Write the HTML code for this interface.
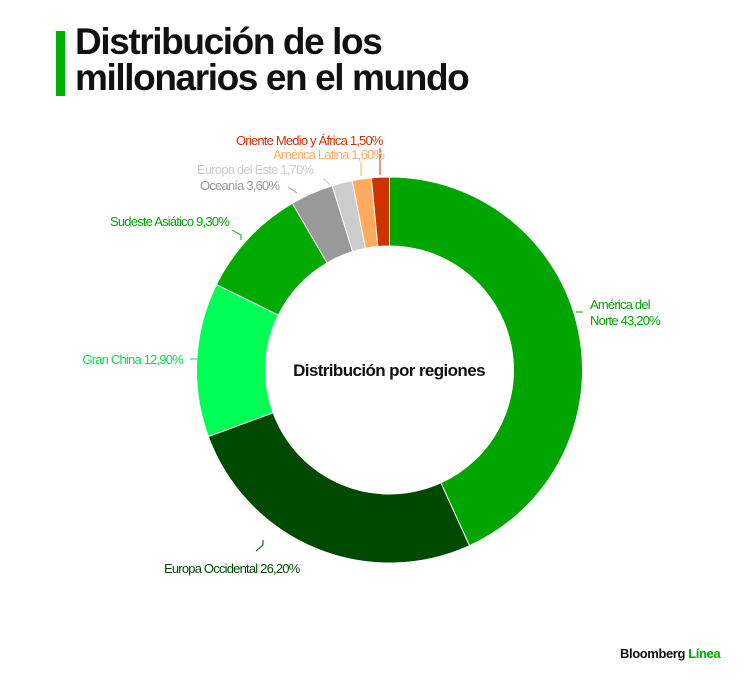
<!DOCTYPE html>
<html><head><meta charset="utf-8"><style>
body{margin:0;background:#fff;width:751px;height:681px;overflow:hidden;font-family:"Liberation Sans",sans-serif}
.bar{position:absolute;left:56px;top:31px;width:9px;height:65px;background:#00b000}
.t{position:absolute;left:75px;top:24px;font-size:37px;font-weight:bold;line-height:36px;letter-spacing:-1.4px;color:#111}
svg{position:absolute;left:0;top:0}
svg text{font-family:"Liberation Sans",sans-serif;font-size:13px;letter-spacing:-0.8px}
</style></head><body>
<div class="bar"></div>
<div class="t">Distribución de los<br>millonarios en el mundo</div>
<svg width="751" height="681" id="s">
<g id="g"></g>
<text x="389" y="376" text-anchor="middle" style="font-size:17px;font-weight:bold;letter-spacing:-0.6px" fill="#111">Distribución por regiones</text>
<g fill="none" stroke-width="1">
<polyline points="576,312 583,312" stroke="#00a500"/>
<polyline points="256,551 263,545 263,540" stroke="#004a00"/>
<polyline points="190,359 197,359" stroke="#00e050"/>
<polyline points="232,230 241,235 241,240" stroke="#00a500"/>
<polyline points="288,187 297,193" stroke="#999"/>
<polyline points="323,178 330,185" stroke="#ccc"/>
<polyline points="361,162 361,176" stroke="#ffaa5e"/>
<polyline points="380,148 380,175" stroke="#cc3300"/>
</g>
<text x="590" y="309" fill="#00a500">América del</text>
<text x="590" y="325" fill="#00a500">Norte 43,20%</text>
<text x="164" y="573" fill="#004a00">Europa Occidental 26,20%</text>
<text x="183" y="364" text-anchor="end" fill="#00e050">Gran China 12,90%</text>
<text x="110" y="226" fill="#00a500">Sudeste Asiático 9,30%</text>
<text x="200" y="190" fill="#999">Oceanía 3,60%</text>
<text x="197" y="174" fill="#ccc">Europa del Este 1,70%</text>
<text x="273" y="159" fill="#ffaa5e">América Latina 1,60%</text>
<text x="236" y="145" fill="#cc3300">Oriente Medio y África 1,50%</text>
<text x="620" y="658" style="font-size:13px;font-weight:bold;letter-spacing:-0.4px" fill="#111">Bloomberg <tspan fill="#00a500">Línea</tspan></text>
</svg>
<script>
var d=[[43.2,"#00a500"],[26.2,"#004a00"],[12.9,"#00ff55"],[9.3,"#00aa00"],[3.6,"#999999"],[1.7,"#cccccc"],[1.6,"#ffaa5e"],[1.5,"#cc3300"]];
var cx=389.5,cy=370,R=193,r=124,a=0,h="";
function p(rad,ang){var t=ang/100*2*Math.PI;return [cx+rad*Math.sin(t),cy-rad*Math.cos(t)];}
d.forEach(function(s){var b=a+s[0],l=s[0]>50?1:0,A=p(R,a),B=p(R,b),C=p(r,b),D=p(r,a);
h+='<path d="M'+A+'A'+R+','+R+' 0 '+l+' 1 '+B+'L'+C+'A'+r+','+r+' 0 '+l+' 0 '+D+'Z" fill="'+s[1]+'" stroke="#fff" stroke-width="1"/>';a=b;});
document.getElementById("g").innerHTML=h;
</script>
</body></html>
